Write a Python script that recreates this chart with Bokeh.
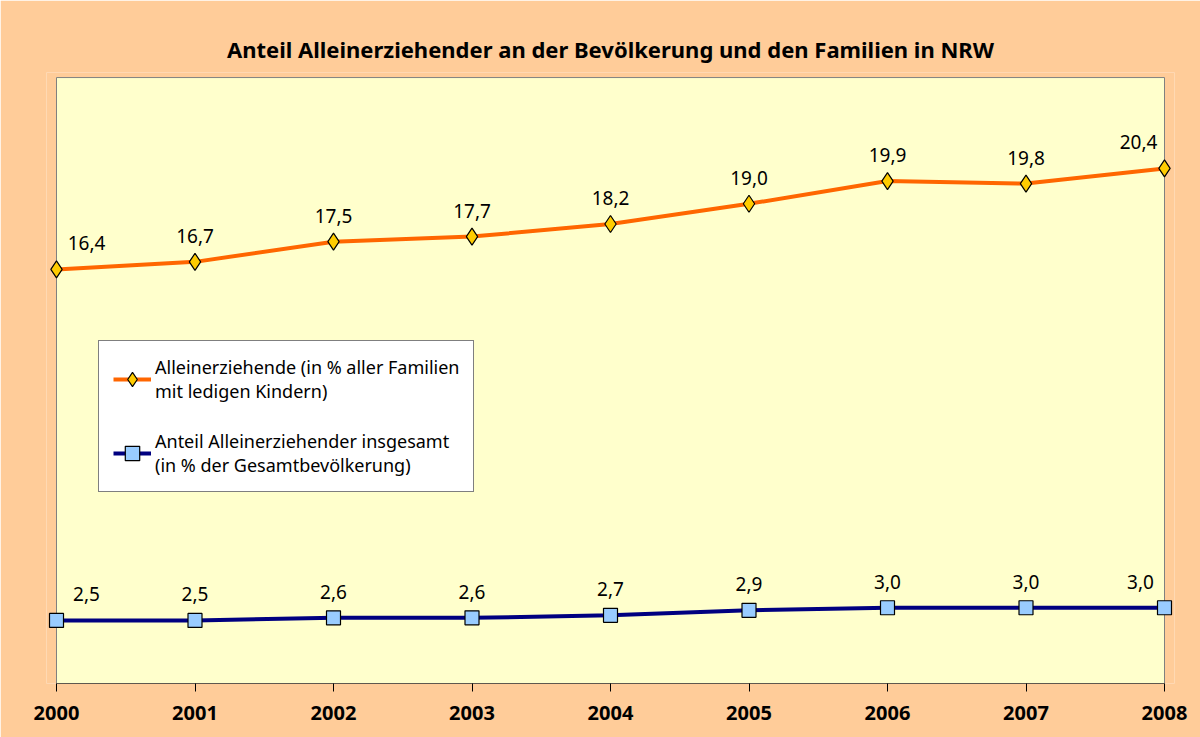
from bokeh.plotting import figure
from bokeh.models import ColumnDataSource, Legend, LegendItem, FixedTicker, Range1d
from bokeh.core.properties import value
from bokeh.embed import file_html
from bokeh.resources import INLINE

years = [2000, 2001, 2002, 2003, 2004, 2005, 2006, 2007, 2008]
alleinerziehende = [16.4, 16.7, 17.5, 17.7, 18.2, 19.0, 19.9, 19.8, 20.4]
anteil_gesamt = [2.5, 2.5, 2.6, 2.6, 2.7, 2.9, 3.0, 3.0, 3.0]
y_min, y_max = 0, 24
label_fam = "Alleinerziehende (in % aller Familien\nmit ledigen Kindern)"
label_ges = "Anteil Alleinerziehender insgesamt\n(in % der Gesamtbevölkerung)"
title_text = "Anteil Alleinerziehender an der Bevölkerung und den Familien in NRW"

FONT = "Noto Sans"

def fmt(v):
    return f"{v:.1f}".replace(".", ",")

def offsets(n, first, last):
    return [first if i == 0 else (last if i == n - 1 else 0) for i in range(n)]

n = len(years)
src_a = ColumnDataSource(dict(x=years, y=alleinerziehende,
                              t=[fmt(v) for v in alleinerziehende],
                              xo=offsets(n, 30, -26)))
src_b = ColumnDataSource(dict(x=years, y=anteil_gesamt,
                              t=[fmt(v) for v in anteil_gesamt],
                              xo=offsets(n, 30, -24)))

pad_x = 10 / 138.5
pad_y = 0.2
p = figure(width=1200, height=737, output_backend="svg", toolbar_location=None,
           x_range=Range1d(years[0] - pad_x, years[-1] + pad_x),
           y_range=Range1d(y_min, y_max + pad_y),
           min_border_left=46, min_border_right=26, min_border_top=72, min_border_bottom=54)

p.background_fill_color = "#FFCC99"
p.border_fill_color = "#FFCC99"
p.outline_line_color = None
p.xgrid.visible = False
p.ygrid.visible = False
p.yaxis.visible = False

p.title.text = title_text
p.title.align = "center"
p.title.text_font = FONT
p.title.text_font_size = "22px"
p.title.text_font_style = "bold"
p.title.text_color = "#000000"
p.title.offset = 0
p.title.standoff = 17

ax = p.xaxis[0]
ax.ticker = FixedTicker(ticks=years)
ax.major_label_text_font = FONT
ax.major_label_text_font_size = "20px"
ax.major_label_text_font_style = "bold"
ax.major_label_text_color = "#000000"
ax.axis_line_color = None
ax.major_tick_line_color = "#000000"
ax.major_tick_in = 0
ax.major_tick_out = 8
ax.minor_tick_line_color = None
ax.major_label_standoff = 14

# plot area
p.quad(left=years[0], right=years[-1], bottom=y_min, top=y_max,
       fill_color="#FFFFCC", line_color="#808080", line_width=1)
p.segment(x0=years[0], x1=years[-1], y0=y_min, y1=y_min, line_color="#000000", line_width=1)

la = p.line("x", "y", source=src_a, line_color="#FF6600", line_width=4)
ma = p.scatter("x", "y", source=src_a, marker="diamond", size=17,
               fill_color="#FFCC00", line_color="#000000", line_width=1.2)
lb = p.line("x", "y", source=src_b, line_color="#000080", line_width=4)
mb = p.scatter("x", "y", source=src_b, marker="square", size=14,
               fill_color="#99CCFF", line_color="#000000", line_width=1.2)

for s in (src_a, src_b):
    p.text("x", "y", text="t", source=s, x_offset="xo", y_offset=-26,
           text_align="center", text_baseline="middle",
           text_font=value(FONT), text_font_size="19px", text_color="#000000")

legend = Legend(items=[LegendItem(label=label_fam, renderers=[la, ma]),
                       LegendItem(label=label_ges, renderers=[lb, mb])],
                location=(52, 191))
legend.background_fill_color = "#FFFFFF"
legend.background_fill_alpha = 1
legend.border_line_color = "#000000"
legend.border_line_width = 1
legend.label_text_font = FONT
legend.label_text_font_size = "18px"
legend.label_text_color = "#000000"
legend.label_text_line_height = 1.2
legend.glyph_width = 38
legend.glyph_height = 36
legend.spacing = 26
legend.padding = 14
legend.margin = 0
legend.label_standoff = 4
p.add_layout(legend, "center")

open("out.html", "w").write(file_html(p, INLINE))
